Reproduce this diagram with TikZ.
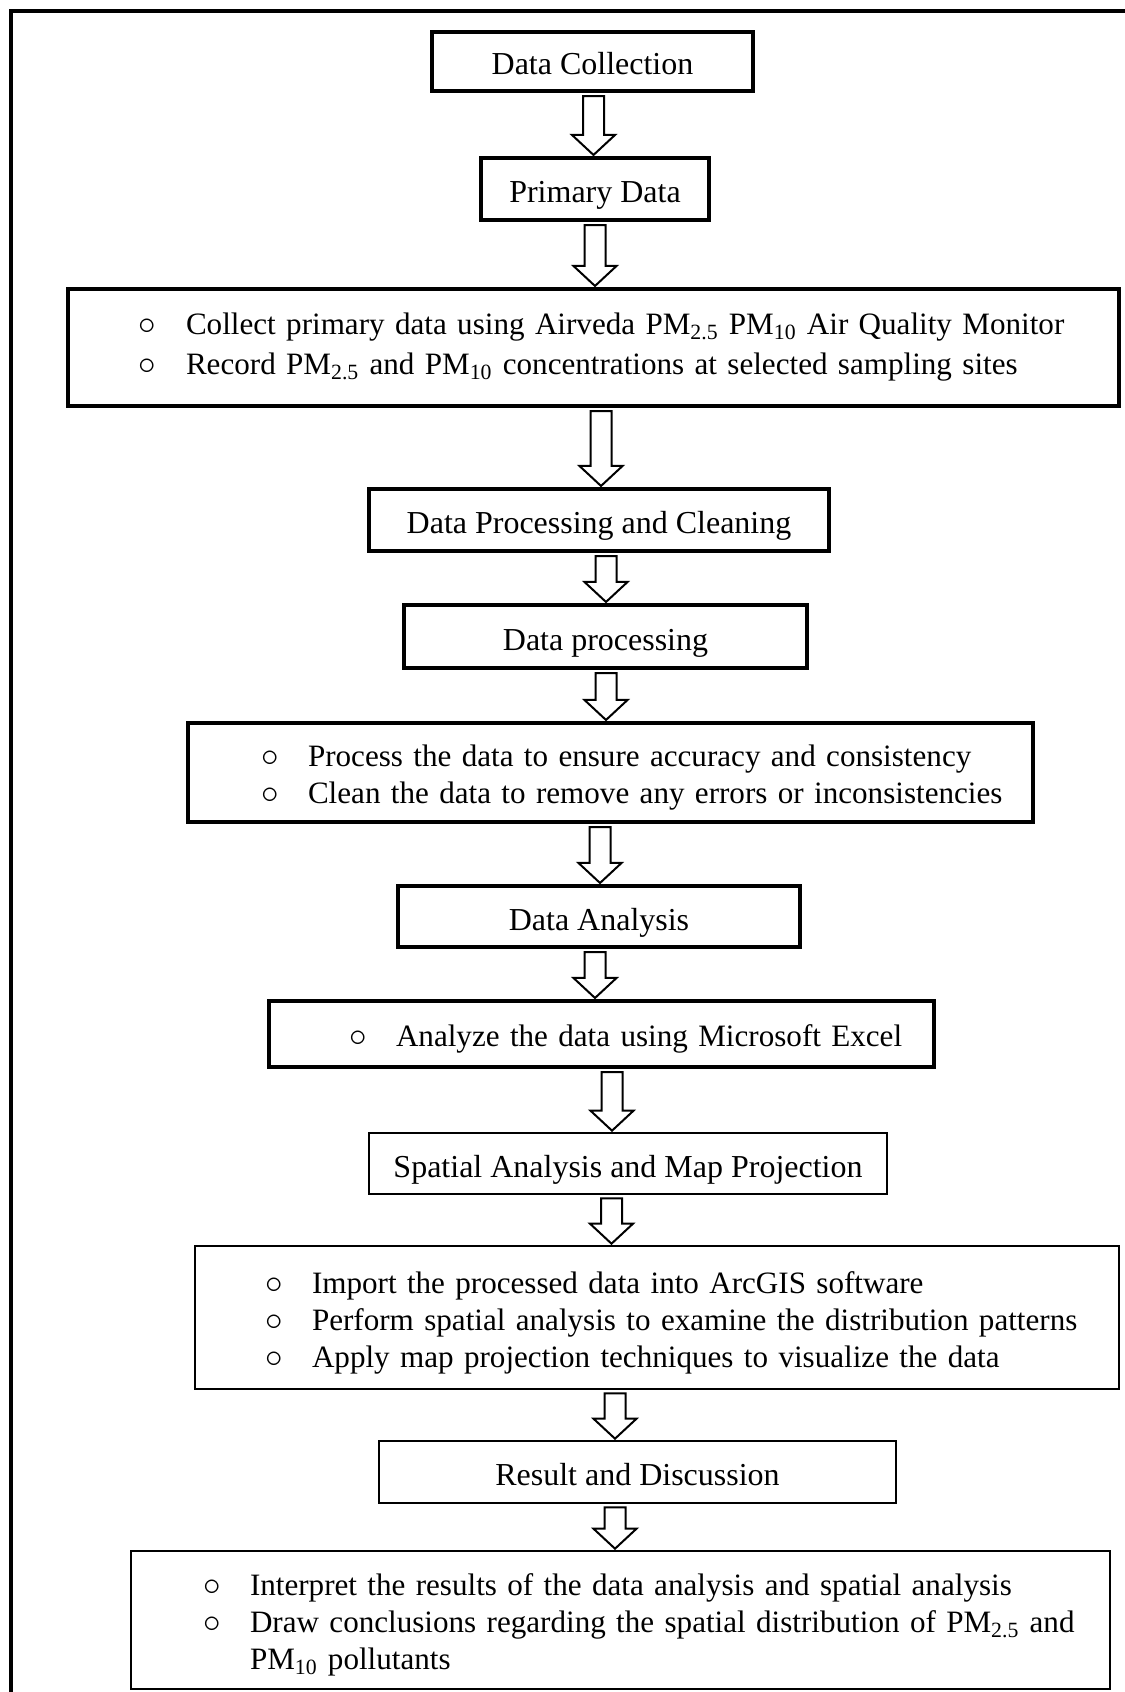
\documentclass[tikz,border=0pt]{standalone}
\usepackage{fontspec}
\setmainfont{Liberation Serif}
\usepackage{tikz}
\usetikzlibrary{calc}
\newcommand\bitem[2]{\hspace*{#1}\makebox[0.9cm][l]{\hspace*{-0.04cm}\scalebox{1.15}{$\circ$}}#2}
\newcommand\topstrut{\rule{0pt}{0.64cm}}
% block arrow: x position, upper node, lower node
\newcommand\flowarrow[3]{%
  \draw[blockarrow] let \p1=(#2.south), \p2=(#3.north) in
    ({#1cm-0.21cm},{\y1-0.06cm}) -- ({#1cm+0.21cm},{\y1-0.06cm})
    -- ({#1cm+0.21cm},{\y2+0.42cm}) -- ({#1cm+0.43cm},{\y2+0.42cm})
    -- ({#1cm},{\y2+0.02cm}) -- ({#1cm-0.43cm},{\y2+0.42cm})
    -- ({#1cm-0.21cm},{\y2+0.42cm}) -- cycle;}

\begin{document}
\begin{tikzpicture}[
    font=\fontsize{18.2}{21}\selectfont,
    % Box styles
    heavy/.style={rectangle, draw=black, line width=2.3pt, inner sep=0pt, align=center, text height=0.6cm, text depth=0.06cm},
    light/.style={rectangle, draw=black, line width=1.5pt, inner sep=0pt, align=center, text height=0.6cm, text depth=0.06cm},
    listed/.style={align=left, text height=, text depth=, font=\fontsize{17.7}{21}\selectfont},
    blockarrow/.style={draw=black, fill=white, line width=0.04cm}
]
\useasboundingbox (0,0) rectangle (22.5,-33.84);
\draw [line width=0.08cm] (0.22,-0.22) rectangle (23,-35);

% --- Nodes ---
\node [heavy, minimum width=6.42cm, minimum height=1.18cm] (collection) at (11.85,-1.23) {Data Collection};

\node [heavy, minimum width=4.56cm, minimum height=1.24cm] (primary) at (11.90,-3.78) {Primary Data};

\node [heavy, listed, text width=21.02cm, minimum height=2.34cm] (monitor) at (11.87,-6.95) {\bitem{1.46cm}{Collect primary data using Airveda PM\textsubscript{2.5} PM\textsubscript{10} Air Quality Monitor}\\[1.7pt]
\bitem{1.46cm}{Record PM\textsubscript{2.5} and PM\textsubscript{10} concentrations at selected sampling sites}};

\node [heavy, minimum width=9.20cm, minimum height=1.24cm] (cleaning) at (11.98,-10.40) {Data Processing and Cleaning};

\node [heavy, minimum width=8.06cm, minimum height=1.26cm] (processing) at (12.11,-12.73) {Data processing};

\node [heavy, listed, text width=16.90cm, minimum height=1.98cm] (accuracy) at (12.21,-15.45) {\topstrut\bitem{1.5cm}{Process the data to ensure accuracy and consistency}\\
\bitem{1.5cm}{Clean the data to remove any errors or inconsistencies}};

\node [heavy, minimum width=8.04cm, minimum height=1.22cm] (analysis) at (11.98,-18.33) {Data Analysis};

\node [heavy, listed, text width=13.30cm, minimum height=1.32cm] (excel) at (12.03,-20.68) {\topstrut\bitem{1.64cm}{Analyze the data using Microsoft Excel}};

\node [light, minimum width=10.36cm, minimum height=1.22cm] (spatial) at (12.56,-23.27) {Spatial Analysis and Map Projection};

\node [light, listed, text width=18.48cm, minimum height=2.86cm] (arcgis) at (13.14,-26.35) {\topstrut\bitem{1.44cm}{Import the processed data into ArcGIS software}\\
\bitem{1.44cm}{Perform spatial analysis to examine the distribution patterns}\\
\bitem{1.44cm}{Apply map projection techniques to visualize the data}};

\node [light, minimum width=10.34cm, minimum height=1.24cm] (result) at (12.75,-29.44) {Result and Discussion};

\node [light, listed, text width=19.58cm, minimum height=2.76cm] (conclude) at (12.41,-32.40) {\topstrut\bitem{1.48cm}{Interpret the results of the data analysis and spatial analysis}\\
\bitem{1.48cm}{Draw conclusions regarding the spatial distribution of PM\textsubscript{2.5} and}\\
\hspace*{2.38cm}PM\textsubscript{10} pollutants};

% --- Arrows ---
\flowarrow{11.87}{collection}{primary}
\flowarrow{11.90}{primary}{monitor}
\flowarrow{12.02}{monitor}{cleaning}
\flowarrow{12.12}{cleaning}{processing}
\flowarrow{12.12}{processing}{accuracy}
\flowarrow{12.00}{accuracy}{analysis}
\flowarrow{11.90}{analysis}{excel}
\flowarrow{12.24}{excel}{spatial}
\flowarrow{12.23}{spatial}{arcgis}
\flowarrow{12.30}{arcgis}{result}
\flowarrow{12.30}{result}{conclude}

\end{tikzpicture}
\end{document}
